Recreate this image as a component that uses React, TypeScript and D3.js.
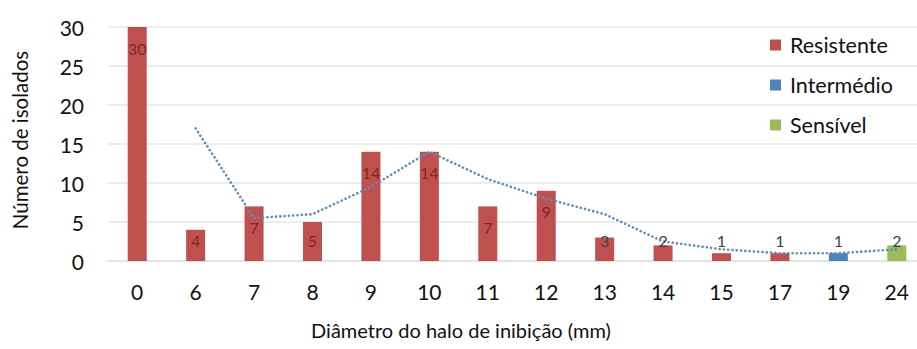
import React from "react";
import * as d3 from "d3";

const categories = ["0", "6", "7", "8", "9", "10", "11", "12", "13", "14", "15", "17", "19", "24"];
const resistente = [30, 4, 7, 5, 14, 14, 7, 9, 3, 2, 1, 1, 0, 0];
const intermedio = [0, 0, 0, 0, 0, 0, 0, 0, 0, 0, 0, 0, 1, 0];
const sensivel = [0, 0, 0, 0, 0, 0, 0, 0, 0, 0, 0, 0, 0, 2];
// dotted trend line, starting at category "6"
const trendCats = ["6", "7", "8", "9", "10", "11", "12", "13", "14", "15", "17", "19", "24"];
const trendValues = [17, 5.5, 6, 9.5, 14, 10.5, 8, 6, 2.5, 1.5, 1, 1, 1.5];
const yTicks = [0, 5, 10, 15, 20, 25, 30];
const seriesNames = ["Resistente", "Intermédio", "Sensível"];
const seriesColors = ["#C0504D", "#4F81BD", "#9BBB59"];

const W = 917;
const H = 349;
const FONT = "Lato, 'Open Sans', sans-serif";

export default function App() {
  const x = d3.scaleBand<string>().domain(categories).range([108, 926]).padding(0);
  const y = d3.scaleLinear().domain([0, 30]).range([261, 27]);
  const bw = 19;
  const series = [resistente, intermedio, sensivel];

  const line = d3
    .line<number>()
    .x((_, i) => (x(trendCats[i]) as number) + x.bandwidth() / 2)
    .y((d) => y(d))
    .curve(d3.curveLinear);

  const bars: React.ReactNode[] = [];
  const labels: React.ReactNode[] = [];
  categories.forEach((c, i) => {
    let base = 0;
    series.forEach((s, si) => {
      const v = s[i];
      if (v <= 0) return;
      const cx = (x(c) as number) + x.bandwidth() / 2;
      const top = y(base + v);
      const bottom = y(base);
      bars.push(
        <rect key={`b${si}-${i}`} x={cx - bw / 2} y={top} width={bw} height={bottom - top} fill={seriesColors[si]} />
      );
      const ly = Math.min(top + 21, 240);
      const inside = ly - 6 > top;
      labels.push(
        <text
          key={`l${si}-${i}`}
          x={cx}
          y={ly}
          textAnchor="middle"
          dominantBaseline="central"
          fontSize={16}
          fontFamily={FONT}
          fill={inside ? "#7a2b2b" : "#404040"}
        >
          {v}
        </text>
      );
      base += v;
    });
  });

  return (
    <svg width={W} height={H} style={{ position: "absolute", left: 0, top: 0, background: "#fff" }}>
      <rect width={W} height={H} fill="#fff" />
      {yTicks.map((t) => (
        <g key={t}>
          <line x1={108} x2={W} y1={y(t)} y2={y(t)} stroke={t === 0 ? "#c8c8c8" : "#d9d9d9"} strokeWidth={1.2} />
          <text x={84} y={y(t)} textAnchor="end" dominantBaseline="central" fontSize={21} fontFamily={FONT} fill="#111">
            {t}
          </text>
        </g>
      ))}
      {bars}
      <path
        d={line(trendValues) || ""}
        fill="none"
        stroke="#5f8db5"
        strokeWidth={2.6}
        strokeDasharray="0.1 4.2"
        strokeLinecap="round"
      />
      {labels}
      {categories.map((c) => (
        <text
          key={c}
          x={(x(c) as number) + x.bandwidth() / 2}
          y={300}
          textAnchor="middle"
          fontSize={21}
          fontFamily={FONT}
          fill="#111"
        >
          {c}
        </text>
      ))}
      <text x={461} y={338} textAnchor="middle" fontSize={20} fontFamily={FONT} fill="#111">
        Diâmetro do halo de inibição (mm)
      </text>
      <text
        transform={`translate(28,140) rotate(-90)`}
        textAnchor="middle"
        fontSize={20.5}
        fontFamily={FONT}
        fill="#111"
      >
        Número de isolados
      </text>
      {seriesNames.map((n, i) => {
        const ly = [45, 85, 125][i];
        return (
          <g key={n}>
            <rect x={770} y={ly - 5.5} width={11} height={11} fill={seriesColors[i]} />
            <text x={790} y={ly} dominantBaseline="central" fontSize={21.5} fontFamily={FONT} fill="#111">
              {n}
            </text>
          </g>
        );
      })}
    </svg>
  );
}
